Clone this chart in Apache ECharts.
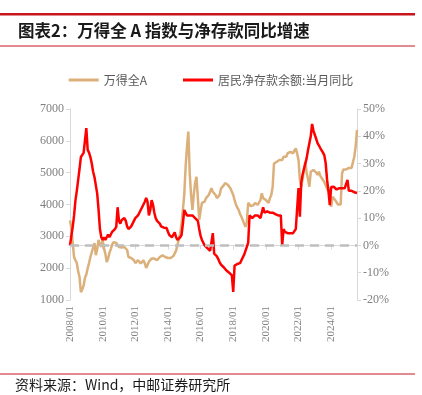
<!DOCTYPE html>
<html><head><meta charset="utf-8">
<script src="https://cdn.jsdelivr.net/npm/echarts@6/dist/echarts.min.js"></script>
<style>html,body{margin:0;padding:0;background:#fff}#c{width:422px;height:395px}</style>
</head><body><div id="c"></div>
<script>
// Monthly categories 2008/01 .. 2025/08
const categories = [];
for (let y = 2008; y <= 2025; y++) {
  for (let m = 1; m <= 12; m++) {
    if (y === 2025 && m > 8) break;
    categories.push(y + '/' + (m < 10 ? '0' + m : m));
  }
}
// 万得全A (left axis)
const windA = [
  3500,3250,2790,2350,2250,2160,1900,1720,1250,1330,1450,1700,
  1800,2000,2160,2350,2500,2650,2790,2410,2600,2885,2750,2670,
  2885,2630,2450,2195,2300,2480,2600,2750,2820,2800,2790,2750,
  2665,2700,2650,2680,2665,2620,2570,2350,2400,2320,2350,2250,
  2160,2200,2250,2200,2150,2100,2250,2150,2005,2100,2200,2250,
  2300,2350,2300,2250,2250,2300,2350,2350,2400,2350,2350,2320,
  2320,2300,2320,2300,2380,2420,2550,2730,2900,3100,3400,3830,
  4300,5180,5800,6290,4990,4300,3830,4300,4680,4870,4200,3520,
  3800,4050,4000,4090,4200,4250,4300,4400,4510,4400,4350,4300,
  4200,4245,4300,4500,4550,4600,4670,4650,4620,4600,4500,4460,
  4300,4140,4000,3900,3830,3700,3620,3510,3400,3300,3450,4050,
  4000,3950,3930,3980,4050,4000,3990,4050,4140,4350,4200,4140,
  4140,4100,4050,4200,4300,4560,5290,5300,5345,5350,5400,5450,
  5400,5500,5560,5500,5610,5600,5650,5710,5610,5700,5765,5600,
  5400,4770,4560,4800,5085,5345,4980,4800,4560,5030,5050,5085,
  5085,5000,4930,5030,4900,4850,4770,4700,4665,4500,4450,4350,
  3930,4240,4200,4140,4100,4000,3985,4000,4980,5100,5140,5100,
  5085,5150,5190,5150,5190,5500,5820,6340
];
// 居民净存款余额:当月同比 (%) (right axis)
const depositYoY = [
  0,3.5,6.8,11,16.5,20,24,28,32.4,33,33.9,34.5,
  43,35,34,32.4,30,27,25,22,19,13,6,3,
  2,3,2,2.5,4,3,3.5,5,4.5,6,6.8,14,
  9,8,9.3,10,10,9,7,6,5.5,7,8,9,
  10,10.5,11,12,13,14,15,16,17.4,16,11,13,
  16.6,15,12,10,9,8.5,8,7,6.8,6.5,6.5,6.4,
  5,3.8,3.5,3,3,4.8,3,2,2,3,3.8,8,
  13,12,11,11.5,11,11,11,10.5,10,9.5,9,6,
  3.5,2,1,0,-0.6,-1,-1.5,-2,-2.4,4.5,-3,-3.5,
  -4,-5,-6.2,-7,-7.5,-8,-8.7,-9.2,-9.8,-10,-10.5,-11,
  -17,-7.4,-7,-6.8,-6.5,-6.5,-6,-4.4,-3.5,-2,-0.5,1,
  11,10.5,10,10.5,11,11.5,11,10.5,10,10.5,14,12,
  12,12.5,12,12,12,12,12,11.5,11.5,11,11,11,
  0,6,5,4.5,4.5,4.5,4.5,4.5,4.5,5,6,6,
  21,10.5,23,26,28,30,32,35,37.5,40,44.5,42,
  40.5,39,37.5,37,35.7,35,34,33,30,24,20,14.8,
  21.4,21,21.5,21,20.5,21,21,21,21,20.5,21,20.5,
  24,20,20,20,19.8,19.5,19.5,19.2
];
const leftTicks = {min: 1000, max: 7000, interval: 1000};
const rightTicks = {min: -20, max: 50, interval: 10};
const seriesNames = ['万得全A', '居民净存款余额:当月同比'];

const chart = echarts.init(document.getElementById('c'), null, {renderer: 'canvas'});
const axisGray = '#D9D9D9';
const labelGray = '#7F7F7F';
const serif = '"Liberation Serif", "DejaVu Serif", serif';
const every24 = function (i) { return i % 24 === 0; };
chart.setOption({
  animation: false,
  backgroundColor: '#fff',
  graphic: [
    {type: 'rect', shape: {x: 0, y: 13, width: 415, height: 2.5}, style: {fill: '#C8161E'}},
    {type: 'text', left: 18, top: 22, style: {text: '图表2：万得全 A 指数与净存款同比增速', font: 'bold 16.5px "Noto Sans CJK SC"', fill: '#1a1a1a'}},
    {type: 'rect', shape: {x: 0, y: 45.5, width: 415, height: 1}, style: {fill: '#C8161E'}},
    {type: 'rect', shape: {x: 0, y: 373.5, width: 415, height: 1}, style: {fill: '#C8161E'}},
    {type: 'text', left: 15, top: 378, style: {text: '资料来源：Wind，中邮证券研究所', font: '14px "Noto Sans CJK SC"', fill: '#1a1a1a'}}
  ],
  legend: {
    top: 69, left: 'center',
    itemWidth: 30, itemHeight: 3, itemGap: 36, icon: 'rect',
    textStyle: {color: '#595959', fontSize: 12, fontFamily: '"Noto Sans CJK SC"'},
    data: seriesNames
  },
  grid: {left: 70, right: 65, top: 109, bottom: 95},
  xAxis: {
    type: 'category', data: categories, boundaryGap: false,
    axisLine: {lineStyle: {color: axisGray}},
    axisTick: {show: true, interval: every24, length: 4, lineStyle: {color: axisGray}},
    axisLabel: {interval: every24, rotate: 90, color: labelGray, fontSize: 11, fontFamily: serif, margin: 6}
  },
  yAxis: [
    {type: 'value', min: leftTicks.min, max: leftTicks.max, interval: leftTicks.interval,
     splitLine: {show: false},
     axisLine: {show: true, lineStyle: {color: axisGray}},
     axisTick: {show: true, length: 4, lineStyle: {color: axisGray}},
     axisLabel: {color: labelGray, fontSize: 12, fontFamily: serif, margin: 6,
       formatter: function (v) { return String(v); }}},
    {type: 'value', min: rightTicks.min, max: rightTicks.max, interval: rightTicks.interval,
     position: 'right', splitLine: {show: false},
     axisLine: {show: true, lineStyle: {color: axisGray}},
     axisTick: {show: true, length: 4, lineStyle: {color: axisGray}},
     axisLabel: {color: labelGray, fontSize: 12, fontFamily: serif, margin: 6, formatter: '{value}%'}}
  ],
  series: [
    {name: seriesNames[0], type: 'line', yAxisIndex: 0, data: windA, showSymbol: false,
     itemStyle: {color: '#DBB07A'}, lineStyle: {color: '#DBB07A', width: 2.5}},
    {name: seriesNames[1], type: 'line', yAxisIndex: 1, data: depositYoY, showSymbol: false,
     itemStyle: {color: '#FF0000'}, lineStyle: {color: '#FF0000', width: 2.5}, z: 3,
     markLine: {silent: true, symbol: 'none', label: {show: false},
       lineStyle: {color: '#BFBFBF', width: 2.5, type: [9, 6]},
       data: [{yAxis: 0}]}}
  ]
});
</script></body></html>
